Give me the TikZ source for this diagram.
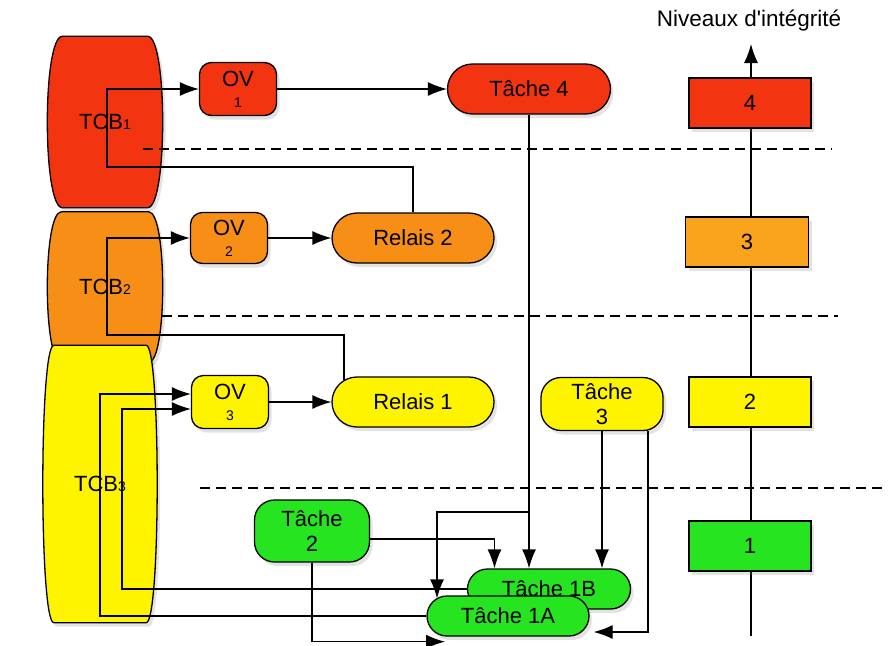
\documentclass[tikz,border=0pt]{standalone}
\usepackage{fontspec}
\setmainfont{Liberation Sans}
\usetikzlibrary{shapes.misc,arrows.meta,shadows,calc,backgrounds}

\definecolor{lvlred}{RGB}{243,52,16}
\definecolor{lvlorange}{RGB}{247,142,22}
\definecolor{lvlamber}{RGB}{250,163,28}
\definecolor{lvlyellow}{RGB}{255,244,0}
\definecolor{lvlgreen}{RGB}{38,228,32}

% barrel outline behind a TCB node: node, colour, inset
\newcommand\barrel[3]{%
  \filldraw[fill=#2,barrel line]
    ([xshift=#3pt]#1.north west) -- ([xshift=-#3pt]#1.north east)
    .. controls ([xshift=#3pt/3]#1.north east) and ([xshift=#3pt/3]#1.south east) .. ([xshift=-#3pt]#1.south east)
    -- ([xshift=#3pt]#1.south west)
    .. controls ([xshift=-#3pt/3]#1.south west) and ([xshift=-#3pt/3]#1.north west) .. cycle;}

\begin{document}
\begin{tikzpicture}[x=1pt,y=-1pt,node font=\fontsize{22}{25}\selectfont,
ombre/.style={drop shadow={opacity=.22,shadow xshift=3pt,shadow yshift=-4pt}},
box/.style={draw,line width=1.3pt,ombre,inner sep=0pt,align=center},
ovbox/.style={box,rectangle,rounded corners=12pt,minimum width=77pt,minimum height=53pt},
pill/.style={box,rounded rectangle,minimum width=162pt,minimum height=50pt},
taskbox/.style={box,rectangle,rounded corners=20pt},
lvlbox/.style={box,rectangle,minimum width=122pt,minimum height=50pt},
tcb/.style={inner sep=0pt},
barrel line/.style={line width=1.3pt,ombre},
link/.style={line width=1.3pt,-{Latex[length=19pt,width=14pt]}},
sep/.style={line width=1.3pt,dash pattern=on 10pt off 6pt}]
\useasboundingbox (0,0) rectangle (888,645);

% trusted computing bases
\node[tcb,minimum width=115pt,minimum height=171pt] (tcb1) at (105,122) {TCB{\fontsize{14}{14}\selectfont 1}};
\node[tcb,minimum width=115pt,minimum height=150pt] (tcb2) at (105,287) {TCB{\fontsize{14}{14}\selectfont 2}};
\node[tcb,minimum width=114pt,minimum height=277pt] (tcb3) at (100,484) {TCB{\fontsize{14}{14}\selectfont 3}};

% objets
\node[ovbox,fill=lvlred] (ov1) at (238,89) {OV\\[-4pt]{\fontsize{14}{14}\selectfont 1}};
\node[ovbox,fill=lvlorange,minimum height=51pt] (ov2) at (229,238) {OV\\[-4pt]{\fontsize{14}{14}\selectfont 2}};
\node[ovbox,fill=lvlyellow] (ov3) at (230,402) {OV\\[-4pt]{\fontsize{14}{14}\selectfont 3}};
\node[pill,fill=lvlred,minimum width=163pt] (task4) at (529,89) {Tâche 4};
\node[pill,fill=lvlorange] (relay2) at (413,238) {Relais 2};
\node[pill,fill=lvlyellow] (relay1) at (413,402) {Relais 1};
\node[taskbox,fill=lvlyellow,minimum width=122pt,minimum height=53pt] (task3) at (602,404) {Tâche\\3};
\node[taskbox,fill=lvlgreen,minimum width=115pt,minimum height=62pt] (task2) at (312,531) {Tâche\\2};
\node[pill,fill=lvlgreen,minimum width=163pt,minimum height=40pt] (task1b) at (549,589) {Tâche 1B};
\node[pill,fill=lvlgreen,minimum height=40pt] (task1a) at (508,616) {Tâche 1A};

% niveaux
\node[font=\fontsize{22.5}{25}\selectfont] (title) at (749,21) {Niveaux d\textquotesingle intégrité};
\coordinate (axisbot) at (751,636);
\coordinate (axistop) at (751,44);
\node[lvlbox,fill=lvlred] (lvl4) at (750,103) {4};
\node[lvlbox,fill=lvlamber,minimum width=123pt] (lvl3) at (747,242) {3};
\node[lvlbox,fill=lvlyellow] (lvl2) at (750,402) {2};
\node[lvlbox,fill=lvlgreen] (lvl1) at (750,546) {1};

\begin{scope}[on background layer]
\barrel{tcb1}{lvlred}{15}
\barrel{tcb2}{lvlorange}{14}
\barrel{tcb3}{lvlyellow}{11}
\draw[link] (axisbot) -- (axistop);
\end{scope}

% frontieres
\draw[sep] (143,149) -- (832,149);
\draw[sep] (162,316) -- (838,316);
\draw[sep] (200,488) -- (888,488);

\coordinate (aux1) at (107,167);
\coordinate (aux2) at (107,335);
\coordinate (aux3) at (100,394);
\coordinate (aux4) at (122,409);
\coordinate (aux5) at (529,512);

\draw[link] (relay2.north) |- (aux1) |- (ov1.west);
\draw[link] ([xshift=-13pt,yshift=-4pt]relay1.north west) |- (aux2) |- (ov2.west);
\draw[link] (task1a.west) -| (aux3) -- (aux3 -| ov3.west);
\draw[link] (task1b.west) -| (aux4) -- (aux4 -| ov3.west);
\draw[link] (ov1) -- (task4);
\draw[link] (ov2) -- (relay2);
\draw[link] (ov3) -- (relay1);
\draw[link] (task4.south) -- (task4.south |- task1b.north);
\draw[link] (aux5) -| ([xshift=-10pt,yshift=-3pt]task1a.north west);
\draw[link] ([yshift=-8pt]task2.east) -| ([xshift=7pt]task1b.north west);
\draw[link] (task2.south) |- ([xshift=-2pt,yshift=-5pt]task1a.south west);
\draw[link] (task3.south) -- (task3.south |- task1b.north);
\draw[link] ([xshift=46pt]task3.south) |- ([xshift=4pt,yshift=-16pt]task1a.east);
\end{tikzpicture}
\end{document}
